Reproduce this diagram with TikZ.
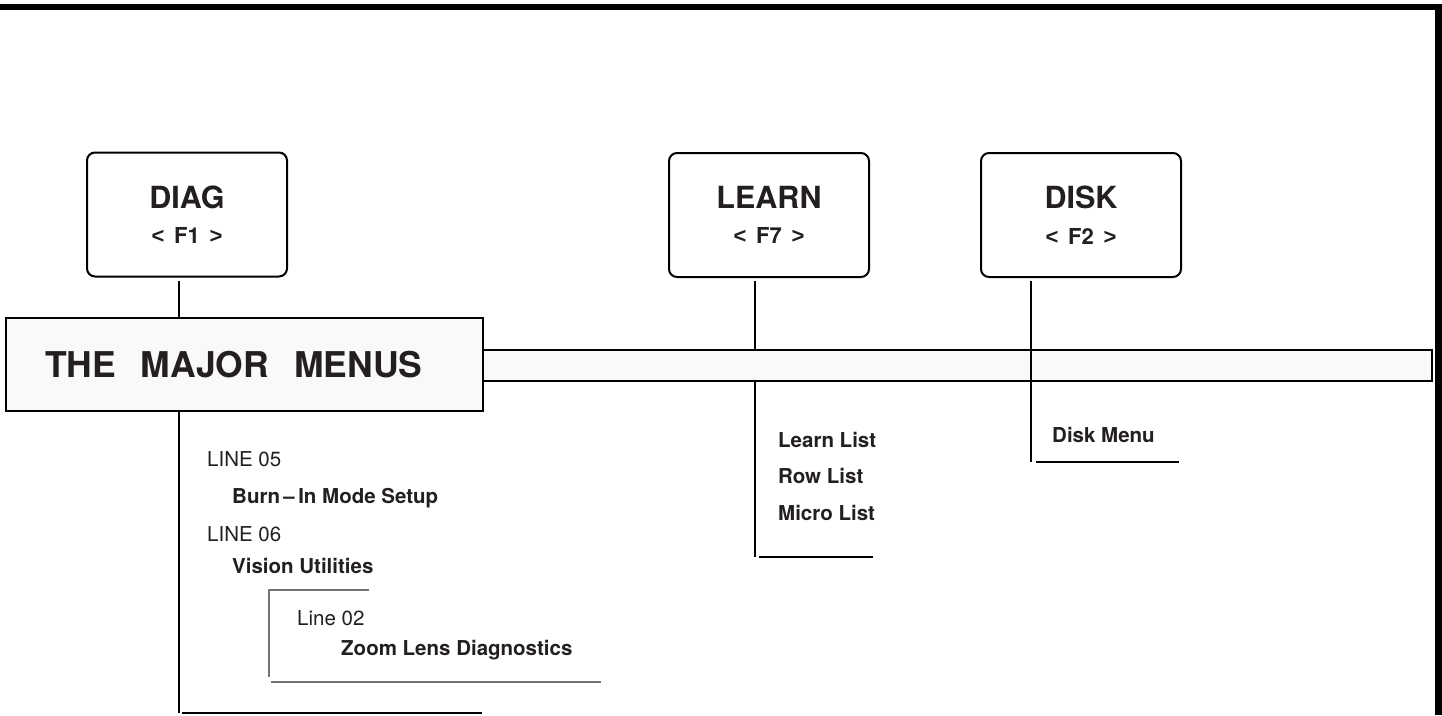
\documentclass[tikz,border=0pt]{standalone}
\usepackage{fontspec}
\setmainfont{TeX Gyre Heros}
\newfontfamily\keyfont{Liberation Sans}
\usetikzlibrary{positioning}
\definecolor{ink}{HTML}{231F20}
\tikzset{
    x=1pt, y=-1pt, % one unit is one pixel of the page, y runs downwards
    color=ink, % near black for every line and text
    node distance=110pt, % gap between the key boxes
}

\begin{document}
\begin{tikzpicture}[
        menukey/.style={draw, line width=2pt, rounded corners=8pt, minimum width=200pt,
            minimum height=124pt, align=center, font=\fontsize{22}{35.5}\selectfont\bfseries},
        banner/.style={draw, line width=2pt, fill=gray!5},
        stem/.style={line width=2pt},
        subframe/.style={line width=1.1pt, black!55},
        linelabel/.style={anchor=base west, inner sep=0pt, font=\fontsize{20.5}{24}\selectfont},
        entry/.style={linelabel, font=\fontsize{20.5}{24}\selectfont\bfseries},
    ]
    \useasboundingbox (0,0) rectangle (1442,715);
    % frame, only top and right
    \draw[line width=6.5pt] (0,7) -- (1438.5,7) -- (1438.5,715);

    % function keys
    \node[menukey] (diag) at (187,214.5) {{\fontsize{30.5}{35.5}\selectfont DIAG}\\{\keyfont<} \,F1\, {\keyfont>}};
    \node[menukey] (learn) at (769,215) {{\fontsize{30.5}{35.5}\selectfont LEARN}\\{\keyfont<} \,F7\, {\keyfont>}};
    \node[menukey, right=of learn] (disk) {{\fontsize{30.5}{35.5}\selectfont DISK}\\{\keyfont<} \,F2\, {\keyfont>}};

    % title box and bar
    \node[banner, minimum width=949pt, minimum height=31pt] (bar) at (957.5,365.5) {};
    \node[banner, text width=399pt, inner xsep=39pt, minimum height=93pt, align=left,
        font=\fontsize{35.5}{40}\selectfont\bfseries] (major) at (244.5,364.5)
        {THE\hspace{25pt}MAJOR\hspace{25pt}MENUS};

    \coordinate (diagfoot) at (179,713);
    \coordinate (learnfoot) at (755,557);
    \coordinate (diskfoot) at (1031,462);

    \draw[stem, shorten <=3pt] (diagfoot |- diag.south) -- (diagfoot |- major.north);
    \draw[stem] (diagfoot |- major.south) -- (diagfoot);
    \draw[stem] ([xshift=3pt]diagfoot) -- ++(300,0);
    \draw[stem, shorten <=3pt] (learnfoot |- learn.south) -- (learnfoot |- bar.north);
    \draw[stem] (learnfoot |- bar.south) -- (learnfoot);
    \draw[stem] ([xshift=4pt]learnfoot) -- ++(114,0);
    \draw[stem, shorten <=3pt] (diskfoot |- disk.south) -- (diskfoot);
    \draw[stem] ([xshift=5pt]diskfoot) -- ++(143,0);

    % vision utilities sub menu
    \draw[subframe] (369,590) -- (269,590) -- (269,677);
    \draw[subframe] (271,682) -- (601,682);

    \node[linelabel] (line05) at (207,466) {LINE 05};
    \node[entry] (burnin) at (232,503) {Burn\,--\,In Mode Setup};
    \node[linelabel] (line06) at (207,541) {LINE 06};
    \node[entry] (vision) at (232,573) {Vision Utilities};
    \node[linelabel] (line02) at (297,625) {Line 02};
    \node[entry] (zoomlens) at (341,655) {Zoom Lens Diagnostics};

    \node[entry] (learnlist) at (778,447) {Learn List};
    \node[entry] (rowlist) at (778,483) {Row List};
    \node[entry] (microlist) at (778,520) {Micro List};
    \node[entry] (diskmenu) at (1052,442) {Disk Menu};
\end{tikzpicture}
\end{document}
